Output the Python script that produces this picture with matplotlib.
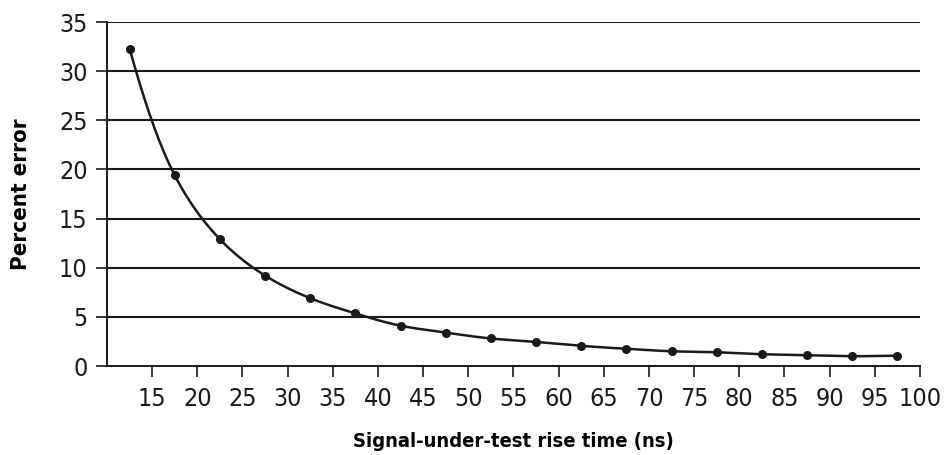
import matplotlib.pyplot as plt
import numpy as np
from matplotlib import font_manager

# rise time of signal under test (ns) and the percent error
rise_time = [12.5, 17.5, 22.5, 27.5, 32.5, 37.5, 42.5, 47.5, 52.5,
             57.5, 62.5, 67.5, 72.5, 77.5, 82.5, 87.5, 92.5, 97.5]
percent_error = [32.3, 19.4, 12.9, 9.2, 6.9, 5.35, 4.1, 3.4, 2.8,
                 2.45, 2.05, 1.75, 1.5, 1.4, 1.2, 1.1, 1.0, 1.05]

x_ticks = list(range(15, 101, 5))
y_ticks = list(range(0, 36, 5))


def find_font(keys):
    for k in keys:
        for f in font_manager.fontManager.ttflist:
            if f.fname.split("/")[-1].lower() == k.lower():
                return font_manager.FontProperties(fname=f.fname)
    return None


# condensed faces look closest to the original Helvetica Condensed
reg = find_font(["LiberationSansNarrow-Regular.ttf", "DejaVuSansCondensed.ttf"])
bold = find_font(["LiberationSansNarrow-Bold.ttf", "DejaVuSansCondensed-Bold.ttf"])
if reg is None:
    reg = font_manager.FontProperties(family="DejaVu Sans", stretch="condensed")
if bold is None:
    bold = font_manager.FontProperties(family="DejaVu Sans", weight="bold",
                                       stretch="condensed")

fig = plt.figure(figsize=(9.5, 4.55), dpi=100)
ax = fig.add_axes([0.1126, 0.1956, 0.8558, 0.756])

# horizontal grid lines
for y in y_ticks[1:]:
    ax.axhline(y, color="#1a1a1a", linewidth=1.5, zorder=1)

# smooth curve through the points: Catmull-Rom spline in log space
xs = np.array(rise_time)
ly = np.log(np.array(percent_error))
px = np.concatenate([[2 * xs[0] - xs[1]], xs, [2 * xs[-1] - xs[-2]]])
py = np.concatenate([[2 * ly[0] - ly[1]], ly, [2 * ly[-1] - ly[-2]]])
cx, cy = [], []
t = np.linspace(0, 1, 30)
for i in range(1, len(px) - 2):
    for arr, out in ((px, cx), (py, cy)):
        p0, p1, p2, p3 = arr[i - 1], arr[i], arr[i + 1], arr[i + 2]
        out.extend(0.5 * (2 * p1 + (-p0 + p2) * t
                          + (2 * p0 - 5 * p1 + 4 * p2 - p3) * t ** 2
                          + (-p0 + 3 * p1 - 3 * p2 + p3) * t ** 3))
ax.plot(cx, np.exp(cy), color="#1a1a1a", linewidth=1.8, zorder=3)
ax.plot(rise_time, percent_error, linestyle="none", marker="o",
        markersize=5.5, color="#1a1a1a", zorder=4)

ax.set_xlim(10, 100)
ax.set_ylim(0, 35)
ax.set_xticks(x_ticks)
ax.set_yticks(y_ticks)
ax.tick_params(axis="both", direction="out", length=8, width=1.2,
               colors="#1a1a1a")
ax.tick_params(axis="y", pad=6)
ax.tick_params(axis="x", pad=7)
for lab in ax.get_xticklabels() + ax.get_yticklabels():
    lab.set_fontproperties(reg)
    lab.set_fontsize(18)

for s in ["top", "right"]:
    ax.spines[s].set_visible(False)
for s in ["left", "bottom"]:
    ax.spines[s].set_linewidth(1.4)
    ax.spines[s].set_color("#1a1a1a")

ax.set_xlabel("Signal-under-test rise time (ns)", fontproperties=bold,
              fontsize=14.5, labelpad=15)
ax.set_ylabel("Percent error", fontproperties=bold, fontsize=16, labelpad=20)

fig.savefig("out.png", dpi=100)
plt.close()
